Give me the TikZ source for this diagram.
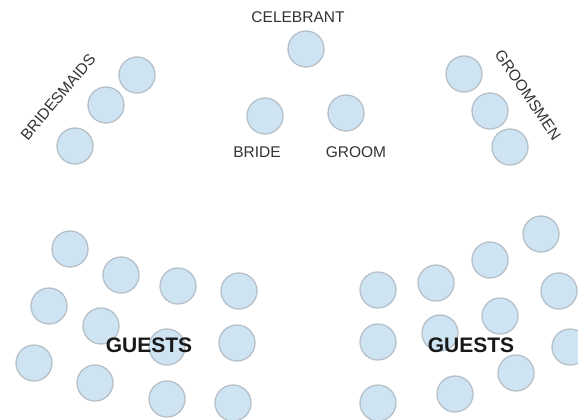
\documentclass[tikz,border=0pt]{standalone}
\usepackage{fontspec}
\setmainfont{Liberation Sans}
\usetikzlibrary{positioning}
\definecolor{seatfill}{HTML}{CFE4F3}
\definecolor{seatline}{HTML}{B6C0C8}
\colorlet{labeltext}{black!80}

\begin{document}
\begin{tikzpicture}[x=1pt,y=-1pt,
  seat/.style={circle,draw=seatline,fill=seatfill,line width=1.3pt,minimum size=36pt,inner sep=0pt},
  role/.style={font=\fontsize{15.5}{16}\selectfont,text=labeltext,inner sep=0pt},
  crowd/.style={font=\bfseries\fontsize{21}{22}\selectfont,text=black!90,inner sep=0pt}]
\useasboundingbox (0,0) rectangle (578,420);
% front: celebrant and couple
\node[seat] (celebrant) at (306,49) {};
\node[seat] (bride) at (265,116) {};
\node[seat] (groom) at (346,113) {};
\node[role] (celebrantlabel) at (298,17) {CELEBRANT};
\node[role] (bridelabel) at (257,152) {BRIDE};
\node[role] (groomlabel) at (356,152) {GROOM};
% wedding party
\foreach \x/\y [count=\i] in {137/75, 106/105, 75/146}
  \node[seat] (bridesmaid\i) at (\x,\y) {};
\foreach \x/\y [count=\i] in {464/74, 490/111, 510/147}
  \node[seat] (groomsman\i) at (\x,\y) {};
\node[role,rotate=50] (bridesmaidslabel) at (58,97) {BRIDESMAIDS};
\node[role,rotate=-56] (groomsmenlabel) at (528,95) {GROOMSMEN};
% guests
\foreach \x/\y [count=\i] in {70/249, 121/275, 178/286, 239/291, 49/306, 101/326,
    167/347, 237/343, 34/363, 95/383, 167/399, 233/403}
  \node[seat] (guestleft\i) at (\x,\y) {};
\foreach \x/\y [count=\i] in {541/234, 490/260, 436/283, 378/290, 559/291, 500/316,
    440/333, 378/342, 570/347, 516/373, 455/394, 378/403}
  \node[seat] (guestright\i) at (\x,\y) {};
\node[crowd] (guestsleft) at (149,345) {GUESTS};
\node[crowd] (guestsright) at (471,345) {GUESTS};
\end{tikzpicture}
\end{document}
